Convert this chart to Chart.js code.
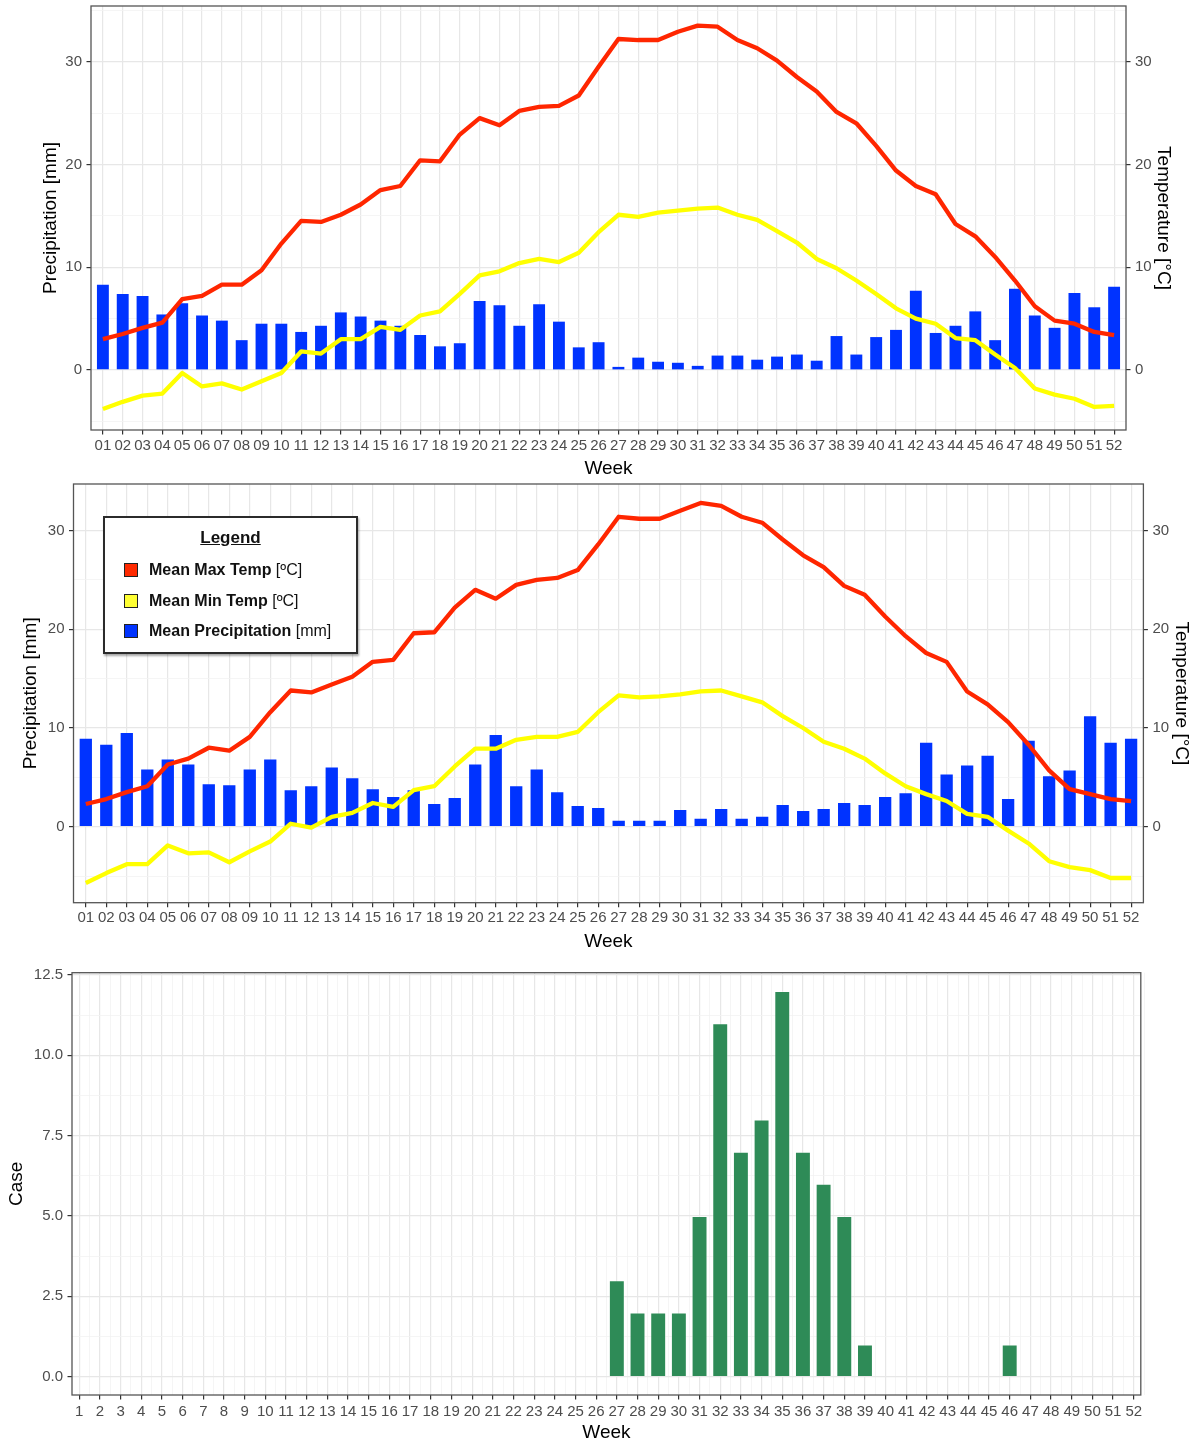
<!DOCTYPE html>
<html>
<head>
<meta charset="utf-8">
<title>Weekly climate and cases</title>
<script src="https://cdn.jsdelivr.net/npm/chart.js@4.4.1/dist/chart.umd.min.js"></script>
<style>
  html, body { margin: 0; padding: 0; background: #ffffff; overflow: hidden; }
  #page { position: relative; width: 1199px; height: 1443px; }
  #page canvas { position: absolute; left: 0; }
  #legend {
    position: absolute; left: 103px; top: 516px; width: 251px; height: 134px;
    border: 2px solid #2b2b2b; background: #ffffff;
    box-shadow: 1px 2px 2px rgba(0,0,0,0.35);
    font-family: "Liberation Sans", Arial, sans-serif; color: #111111;
  }
  #legend .title {
    position: absolute; left: 0; right: 0; top: 9px; text-align: center;
    font-size: 17px; font-weight: bold; text-decoration: underline; line-height: 22px;
  }
  #legend .row { position: absolute; left: 19px; height: 20px; line-height: 20px; white-space: nowrap; font-size: 16px; }
  #legend .key { position: absolute; left: 0; top: 3px; width: 12px; height: 12px; border: 1.5px solid #222222; }
  #legend .lab { position: absolute; left: 25px; top: 0; }
  #legend .lab b { font-weight: bold; }
</style>
</head>
<body>
<div id="page">
  <canvas id="panelA" width="1199" height="480" style="top:0px"></canvas>
  <canvas id="panelB" width="1199" height="480" style="top:478px"></canvas>
  <canvas id="panelC" width="1199" height="488" style="top:956px"></canvas>
  <div id="legend">
    <div class="title">Legend</div>
    <div class="row" style="top:42px"><span class="key" style="background:#ff2a00"></span><span class="lab"><b>Mean Max Temp</b> [ºC]</span></div>
    <div class="row" style="top:73px"><span class="key" style="background:#ffff33"></span><span class="lab"><b>Mean Min Temp</b> [ºC]</span></div>
    <div class="row" style="top:103px"><span class="key" style="background:#0033ff"></span><span class="lab"><b>Mean Precipitation</b> [mm]</span></div>
  </div>
</div>
<script>
// ---- week labels ----
const weekLabels = ['01','02','03','04','05','06','07','08','09','10','11','12','13','14','15','16','17','18','19','20','21','22','23','24','25','26',
                    '27','28','29','30','31','32','33','34','35','36','37','38','39','40','41','42','43','44','45','46','47','48','49','50','51','52'];
const caseWeekLabels = ['1','2','3','4','5','6','7','8','9','10','11','12','13','14','15','16','17','18','19','20','21','22','23','24','25','26',
                        '27','28','29','30','31','32','33','34','35','36','37','38','39','40','41','42','43','44','45','46','47','48','49','50','51','52'];

// ---- upper panel: weekly means ----
const precipA = [8.3, 7.4, 7.2, 5.4, 6.5, 5.3, 4.8, 2.9, 4.5, 4.5, 3.7, 4.3, 5.6, 5.2, 4.8, 4.3, 3.4, 2.3, 2.6, 6.7, 6.3, 4.3, 6.4, 4.7, 2.2, 2.7,
                 0.3, 1.2, 0.8, 0.7, 0.4, 1.4, 1.4, 1.0, 1.3, 1.5, 0.9, 3.3, 1.5, 3.2, 3.9, 7.7, 3.6, 4.3, 5.7, 2.9, 7.9, 5.3, 4.1, 7.5, 6.1, 8.1];
const tmaxA   = [3.0, 3.5, 4.1, 4.6, 6.9, 7.2, 8.3, 8.3, 9.7, 12.3, 14.5, 14.4, 15.1, 16.1, 17.5, 17.9, 20.4, 20.3, 22.9, 24.5, 23.8, 25.2, 25.6, 25.7, 26.7, 29.5,
                 32.2, 32.1, 32.1, 32.9, 33.5, 33.4, 32.1, 31.3, 30.1, 28.5, 27.1, 25.1, 24.0, 21.8, 19.4, 17.9, 17.1, 14.2, 13.0, 11.0, 8.7, 6.2, 4.8, 4.5, 3.7, 3.4];
const tminA   = [-3.8, -3.1, -2.5, -2.3, -0.3, -1.6, -1.3, -1.9, -1.1, -0.3, 1.8, 1.6, 3.0, 3.0, 4.2, 3.9, 5.3, 5.7, 7.4, 9.2, 9.6, 10.4, 10.8, 10.5, 11.4, 13.4,
                 15.1, 14.9, 15.3, 15.5, 15.7, 15.8, 15.1, 14.6, 13.5, 12.4, 10.8, 9.9, 8.7, 7.4, 6.0, 5.0, 4.5, 3.1, 2.9, 1.5, 0.2, -1.8, -2.4, -2.8, -3.6, -3.5];

// ---- middle panel: weekly means ----
const precipB = [8.9, 8.3, 9.5, 5.8, 6.8, 6.3, 4.3, 4.2, 5.8, 6.8, 3.7, 4.1, 6.0, 4.9, 3.8, 3.0, 3.7, 2.3, 2.9, 6.3, 9.3, 4.1, 5.8, 3.5, 2.1, 1.9,
                 0.6, 0.6, 0.6, 1.7, 0.8, 1.8, 0.8, 1.0, 2.2, 1.6, 1.8, 2.4, 2.2, 3.0, 3.4, 8.5, 5.3, 6.2, 7.2, 2.8, 8.7, 5.1, 5.7, 11.2, 8.5, 8.9];
const tmaxB   = [2.3, 2.8, 3.5, 4.1, 6.3, 6.9, 8.0, 7.7, 9.1, 11.6, 13.8, 13.6, 14.4, 15.2, 16.7, 16.9, 19.6, 19.7, 22.2, 24.0, 23.1, 24.5, 25.0, 25.2, 26.0, 28.6,
                 31.4, 31.2, 31.2, 32.0, 32.8, 32.5, 31.4, 30.8, 29.1, 27.5, 26.3, 24.4, 23.5, 21.3, 19.3, 17.6, 16.7, 13.7, 12.4, 10.6, 8.3, 5.7, 3.8, 3.3, 2.8, 2.6];
const tminB   = [-5.7, -4.7, -3.8, -3.8, -1.9, -2.7, -2.6, -3.6, -2.5, -1.5, 0.3, -0.1, 1.0, 1.4, 2.4, 2.0, 3.7, 4.1, 6.1, 7.9, 7.9, 8.8, 9.1, 9.1, 9.6, 11.6,
                 13.3, 13.1, 13.2, 13.4, 13.7, 13.8, 13.2, 12.6, 11.2, 10.0, 8.6, 7.9, 6.9, 5.4, 4.1, 3.3, 2.6, 1.3, 1.0, -0.4, -1.7, -3.5, -4.1, -4.4, -5.2, -5.2];

// ---- lower panel: reported cases per week ----
const caseWeeks  = [27, 28, 29, 30, 31, 32, 33, 34, 35, 36, 37, 38, 39, 46];
const caseCounts = [3, 2, 2, 2, 5, 11, 7, 8, 12, 7, 6, 5, 1, 1];

// ---- shared styling ----
const FONT = '"Liberation Sans", Arial, Helvetica, sans-serif';
const TICK_TEXT = '#4d4d4d';
const TICK_MARK = '#333333';
const GRID_MAJOR = '#e7e7e7';
const GRID_MINOR = '#f2f2f2';
const CLEAR = 'rgba(0,0,0,0)';

Chart.defaults.font.family = FONT;
Chart.defaults.animation = false;
Chart.defaults.events = [];

// panel border drawn on top of the data
const panelFrame = {
  id: 'panelFrame',
  afterDraw(chart) {
    const a = chart.chartArea, c = chart.ctx;
    c.save();
    c.strokeStyle = '#555555';
    c.lineWidth = 1.3;
    c.strokeRect(a.left, a.top, a.right - a.left, a.bottom - a.top);
    c.restore();
  }
};

// fix the box size of an axis so the plotting area lands where wanted
function fixSize(dim, px) {
  return s => {
    s[dim] = px;
    s.paddingTop = 0; s.paddingBottom = 0; s.paddingLeft = 0; s.paddingRight = 0;
  };
}
function stepTicks(min, max, step) {
  const out = [];
  for (let v = Math.ceil(min / step) * step; v <= max + 1e-9; v += step) out.push(+v.toFixed(4));
  return out;
}
function isMultiple(v, m) { return Math.abs(v / m - Math.round(v / m)) < 1e-6; }

function yAxis(opts) {
  const {min, max, minorStep, majorStep, position, width, title, titlePad, labelFmt, grid} = opts;
  return {
    type: 'linear', position, min, max, bounds: 'data', offset: false,
    afterBuildTicks: s => { s.ticks = stepTicks(min, max, minorStep).map(v => ({value: v})); },
    afterFit: fixSize('width', width),
    border: {display: false},
    grid: {
      display: true,
      offset: false,
      drawOnChartArea: grid,
      drawTicks: true,
      tickLength: 4.5,
      color: ctx => (ctx.tick && isMultiple(ctx.tick.value, majorStep)) ? GRID_MAJOR : GRID_MINOR,
      lineWidth: ctx => (ctx.tick && isMultiple(ctx.tick.value, majorStep)) ? 1.2 : 0.8,
      tickColor: ctx => (ctx.tick && isMultiple(ctx.tick.value, majorStep)) ? TICK_MARK : CLEAR,
      tickWidth: 1.2
    },
    ticks: {
      color: TICK_TEXT, padding: 4.5, autoSkip: false,
      font: {size: 15, family: FONT},
      callback: v => isMultiple(v, majorStep) ? labelFmt(v) : ''
    },
    title: {display: true, text: title, color: '#000000', font: {size: 19, family: FONT}, padding: {top: titlePad, bottom: 0}}
  };
}

function xAxis(opts) {
  const {min, max, height, labels, tickPad, titlePad} = opts;
  return {
    type: 'linear', position: 'bottom', min, max, bounds: 'data', offset: false,
    afterBuildTicks: s => { s.ticks = labels.map((_, i) => ({value: i + 1})); },
    afterFit: fixSize('height', height),
    border: {display: false},
    grid: {display: true, offset: false, drawTicks: true, tickLength: 4.5, color: GRID_MAJOR, lineWidth: 1.2, tickColor: TICK_MARK, tickWidth: 1.2},
    ticks: {
      color: TICK_TEXT, padding: tickPad, autoSkip: false, minRotation: 0, maxRotation: 0,
      font: {size: 15, family: FONT},
      callback: v => labels[Math.round(v) - 1]
    },
    title: {display: true, text: 'Week', color: '#000000', font: {size: 19, family: FONT}, padding: {top: 0, bottom: titlePad}}
  };
}

function climatePanel(id, precip, tmax, tmin, geo) {
  return new Chart(document.getElementById(id), {
    type: 'bar',
    data: {
      labels: weekLabels,
      datasets: [
        {type: 'line', label: 'Mean Max Temp [ºC]', data: tmax, borderColor: '#ff2600', borderWidth: 4.3,
         pointRadius: 0, tension: 0, borderJoinStyle: 'round', order: 1, xAxisID: 'x', yAxisID: 'y'},
        {type: 'line', label: 'Mean Min Temp [ºC]', data: tmin, borderColor: '#ffff00', borderWidth: 4.3,
         pointRadius: 0, tension: 0, borderJoinStyle: 'round', order: 2, xAxisID: 'x', yAxisID: 'y'},
        {type: 'bar', label: 'Mean Precipitation [mm]', data: precip, backgroundColor: '#0033ff',
         barPercentage: 0.6, categoryPercentage: 1.0, order: 3, xAxisID: 'x', yAxisID: 'y'}
      ]
    },
    options: {
      responsive: false,
      layout: {padding: {top: geo.top, left: 0, right: 0, bottom: 0}},
      plugins: {legend: {display: false}, tooltip: {enabled: false}},
      scales: {
        x: xAxis({min: 0.4, max: 52.6, height: geo.xHeight, labels: weekLabels, tickPad: geo.tickPad, titlePad: geo.xTitlePad}),
        y: yAxis({min: geo.yMin, max: geo.yMax, minorStep: 5, majorStep: 10, position: 'left', width: geo.left,
                  title: 'Precipitation [mm]', titlePad: geo.leftTitlePad, labelFmt: v => String(v), grid: true}),
        yRight: yAxis({min: geo.yMin, max: geo.yMax, minorStep: 10, majorStep: 10, position: 'right', width: geo.right,
                  title: 'Temperature [°C]', titlePad: geo.rightTitlePad, labelFmt: v => String(v), grid: false})
      }
    },
    plugins: [panelFrame]
  });
}

climatePanel('panelA', precipA, tmaxA, tminA,
  {top: 6, xHeight: 50, left: 91, right: 73, yMin: -5.84, yMax: 35.41, tickPad: 2, xTitlePad: 0, leftTitlePad: 39, rightTitlePad: 24.6});
climatePanel('panelB', precipB, tmaxB, tminB,
  {top: 6, xHeight: 55.3, left: 73.5, right: 55.6, yMin: -7.70, yMax: 34.72, tickPad: 1.5, xTitlePad: 4.5, leftTitlePad: 19.6, rightTitlePad: 6.6});

new Chart(document.getElementById('panelC'), {
  type: 'bar',
  data: {
    datasets: [
      {label: 'Case', data: caseWeeks.map((w, i) => ({x: w, y: caseCounts[i]})),
       backgroundColor: '#2e8b57', borderColor: 'rgba(255,255,255,0.35)', borderWidth: 1,
       barPercentage: 0.77, categoryPercentage: 1.0, xAxisID: 'x', yAxisID: 'y'}
    ]
  },
  options: {
    responsive: false,
    layout: {padding: {top: 16.7, left: 0, right: 58.2, bottom: 0}},
    plugins: {legend: {display: false}, tooltip: {enabled: false}},
    scales: {
      x: xAxis({min: 0.65, max: 52.34, height: 49, labels: caseWeekLabels, tickPad: 3.5, titlePad: 0}),
      xMinor: {
        type: 'linear', position: 'bottom', min: 0.65, max: 52.34, bounds: 'data', offset: false,
        afterBuildTicks: s => { s.ticks = caseWeekLabels.map((_, i) => ({value: i + 1.5})); },
        afterFit: fixSize('height', 0),
        border: {display: false},
        grid: {display: true, offset: false, drawTicks: false, color: GRID_MINOR, lineWidth: 0.8},
        ticks: {display: false}
      },
      y: yAxis({min: -0.57, max: 12.57, minorStep: 1.25, majorStep: 2.5, position: 'left', width: 72,
                title: 'Case', titlePad: 5.6, labelFmt: v => v.toFixed(1), grid: true})
    }
  },
  plugins: [panelFrame]
});
</script>
</body>
</html>
